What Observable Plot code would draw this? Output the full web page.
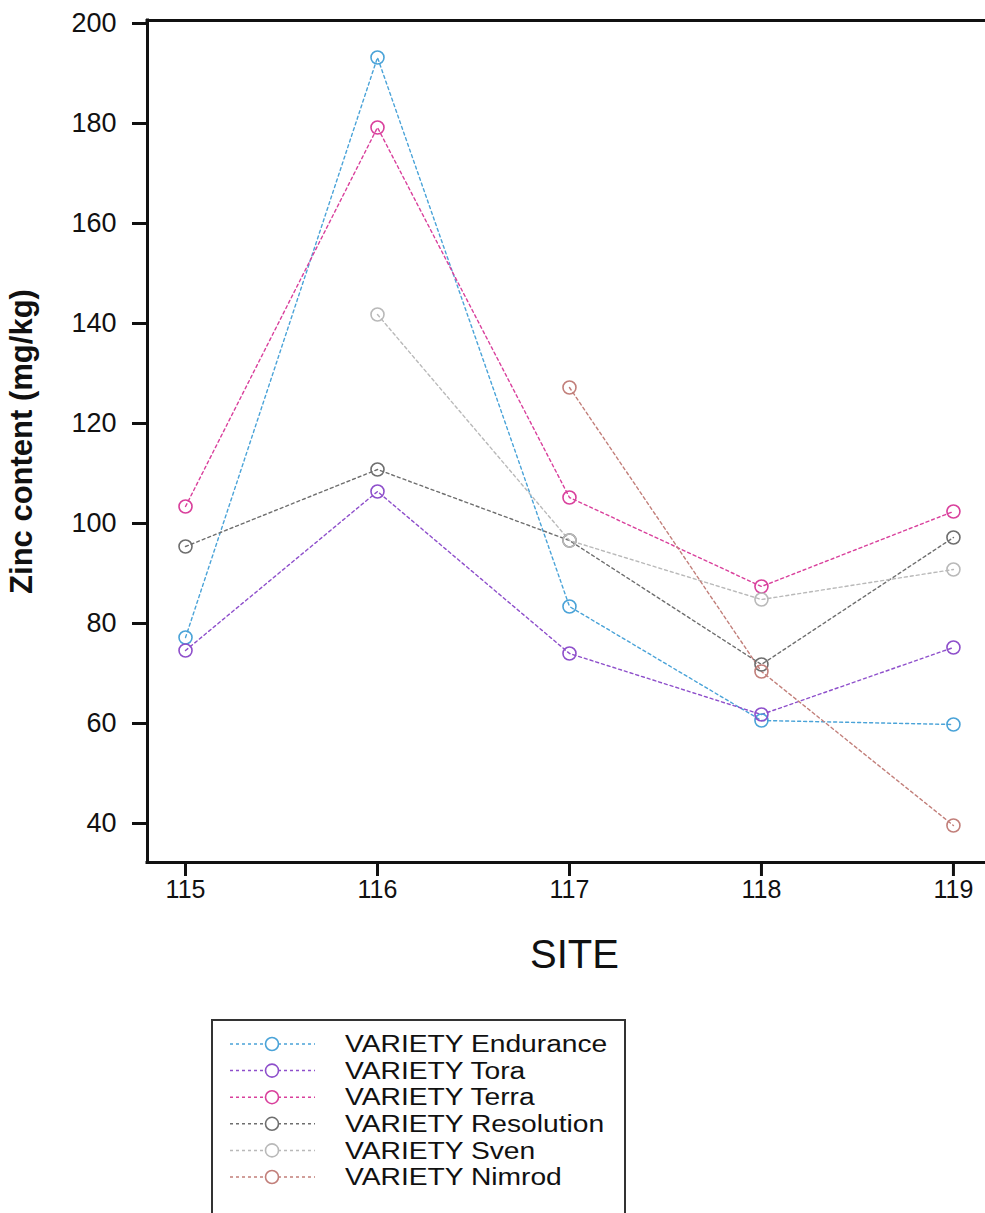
<!DOCTYPE html>
<html>
<head>
<meta charset="utf-8">
<script src="https://cdn.jsdelivr.net/npm/d3@7"></script>
<script src="https://cdn.jsdelivr.net/npm/@observablehq/plot@0.6"></script>
<style>
  html, body { margin: 0; padding: 0; background: #fff; overflow: hidden; }
  svg { display: block; }
</style>
</head>
<body>
<div id="chart"></div>
<script>
const sites = [115, 116, 117, 118, 119];
const yTicks = [40, 60, 80, 100, 120, 140, 160, 180, 200];
const varieties = ["Endurance", "Tora", "Terra", "Resolution", "Sven", "Nimrod"];
const colors = ["#4aa3d8", "#8e4fcb", "#d9409c", "#6e6e6e", "#b9b9b9", "#c27f7a"];
const endurance = [77.2, 193.2, 83.4, 60.6, 59.8];
const tora = [74.6, 106.4, 74.0, 61.8, 75.2];
const terra = [103.4, 179.2, 105.2, 87.4, 102.4];
const resolution = [95.4, 110.8, 96.6, 71.8, 97.2];
const sven = [null, 141.8, 96.6, 84.8, 90.8];
const nimrod = [null, null, 127.2, 70.4, 39.6];

const series = [endurance, tora, terra, resolution, sven, nimrod];
const rows = [];
series.forEach((vals, i) => {
  vals.forEach((v, j) => {
    if (v != null) rows.push({variety: varieties[i], site: sites[j], zinc: v});
  });
});

const font = "'Liberation Sans', Arial, sans-serif";
const xDomain = [114.802, 119.167];
const yDomain = [32.2, 200.6];

const chart = Plot.plot({
  width: 985,
  height: 1000,
  marginLeft: 147,
  marginRight: 0,
  marginTop: 20,
  marginBottom: 138,
  x: {domain: xDomain},
  y: {domain: yDomain},
  color: {domain: varieties, range: colors},
  style: {fontFamily: font, background: "#fff", color: "#111", fontSize: "24px"},
  marks: [
    Plot.axisY({ticks: yTicks, tickSize: 15, tickPadding: 16, fontSize: 27, strokeWidth: 3, label: null, tickFormat: d => String(d)}),
    Plot.axisX({ticks: sites, tickSize: 14, tickPadding: 4, fontSize: 25, strokeWidth: 3, label: null, tickFormat: d => String(d)}),
    Plot.ruleY([yDomain[0]], {stroke: "#111", strokeWidth: 3, strokeLinecap: "square"}),
    Plot.ruleY([yDomain[1]], {stroke: "#111", strokeWidth: 3, strokeLinecap: "square"}),
    Plot.ruleX([xDomain[0]], {stroke: "#111", strokeWidth: 3, strokeLinecap: "square"}),
    Plot.line(rows, {x: "site", y: "zinc", z: "variety", stroke: "variety", strokeDasharray: "3,3", strokeWidth: 1.4}),
    Plot.dot(rows, {x: "site", y: "zinc", stroke: "variety", r: 6.5, strokeWidth: 1.6, fill: "none"}),
    Plot.text(["Zinc content (mg/kg)"], {text: d => d, frameAnchor: "left", textAnchor: "middle", dx: -125, rotate: -90, fontSize: 31, fontWeight: "bold", fill: "#111"}),
    Plot.text(["SITE"], {text: d => d, frameAnchor: "bottom", textAnchor: "middle", dx: 8, dy: 105, fontSize: 40, fill: "#111"})
  ]
});
document.getElementById("chart").appendChild(chart);

// Legend
const leg = d3.create("svg").attr("width", 985).attr("height", 213)
  .style("font-family", font);
leg.append("rect").attr("x", 212).attr("y", 20).attr("width", 413).attr("height", 230)
  .attr("fill", "none").attr("stroke", "#333").attr("stroke-width", 2);
const labels = [];
varieties.forEach((v, i) => {
  const cy = 44 + i * 26.6;
  const g = leg.append("g");
  g.append("line").attr("x1", 230).attr("x2", 315).attr("y1", cy).attr("y2", cy)
    .attr("stroke", colors[i]).attr("stroke-width", 1.5).attr("stroke-dasharray", "3,3");
  g.append("circle").attr("cx", 272).attr("cy", cy).attr("r", 6.5)
    .attr("fill", "#fff").attr("stroke", colors[i]).attr("stroke-width", 1.6);
  labels.push(g.append("text").attr("x", 345).attr("y", cy).attr("dy", "0.35em")
    .attr("font-size", 23.5).attr("fill", "#111").text("VARIETY " + v));
});
document.getElementById("chart").appendChild(leg.node());
// widen legend labels horizontally to match the reference's wide lettering
labels.forEach(t => {
  const w = t.node().getComputedTextLength();
  t.attr("textLength", w * 1.2).attr("lengthAdjust", "spacingAndGlyphs");
});
</script>
</body>
</html>
